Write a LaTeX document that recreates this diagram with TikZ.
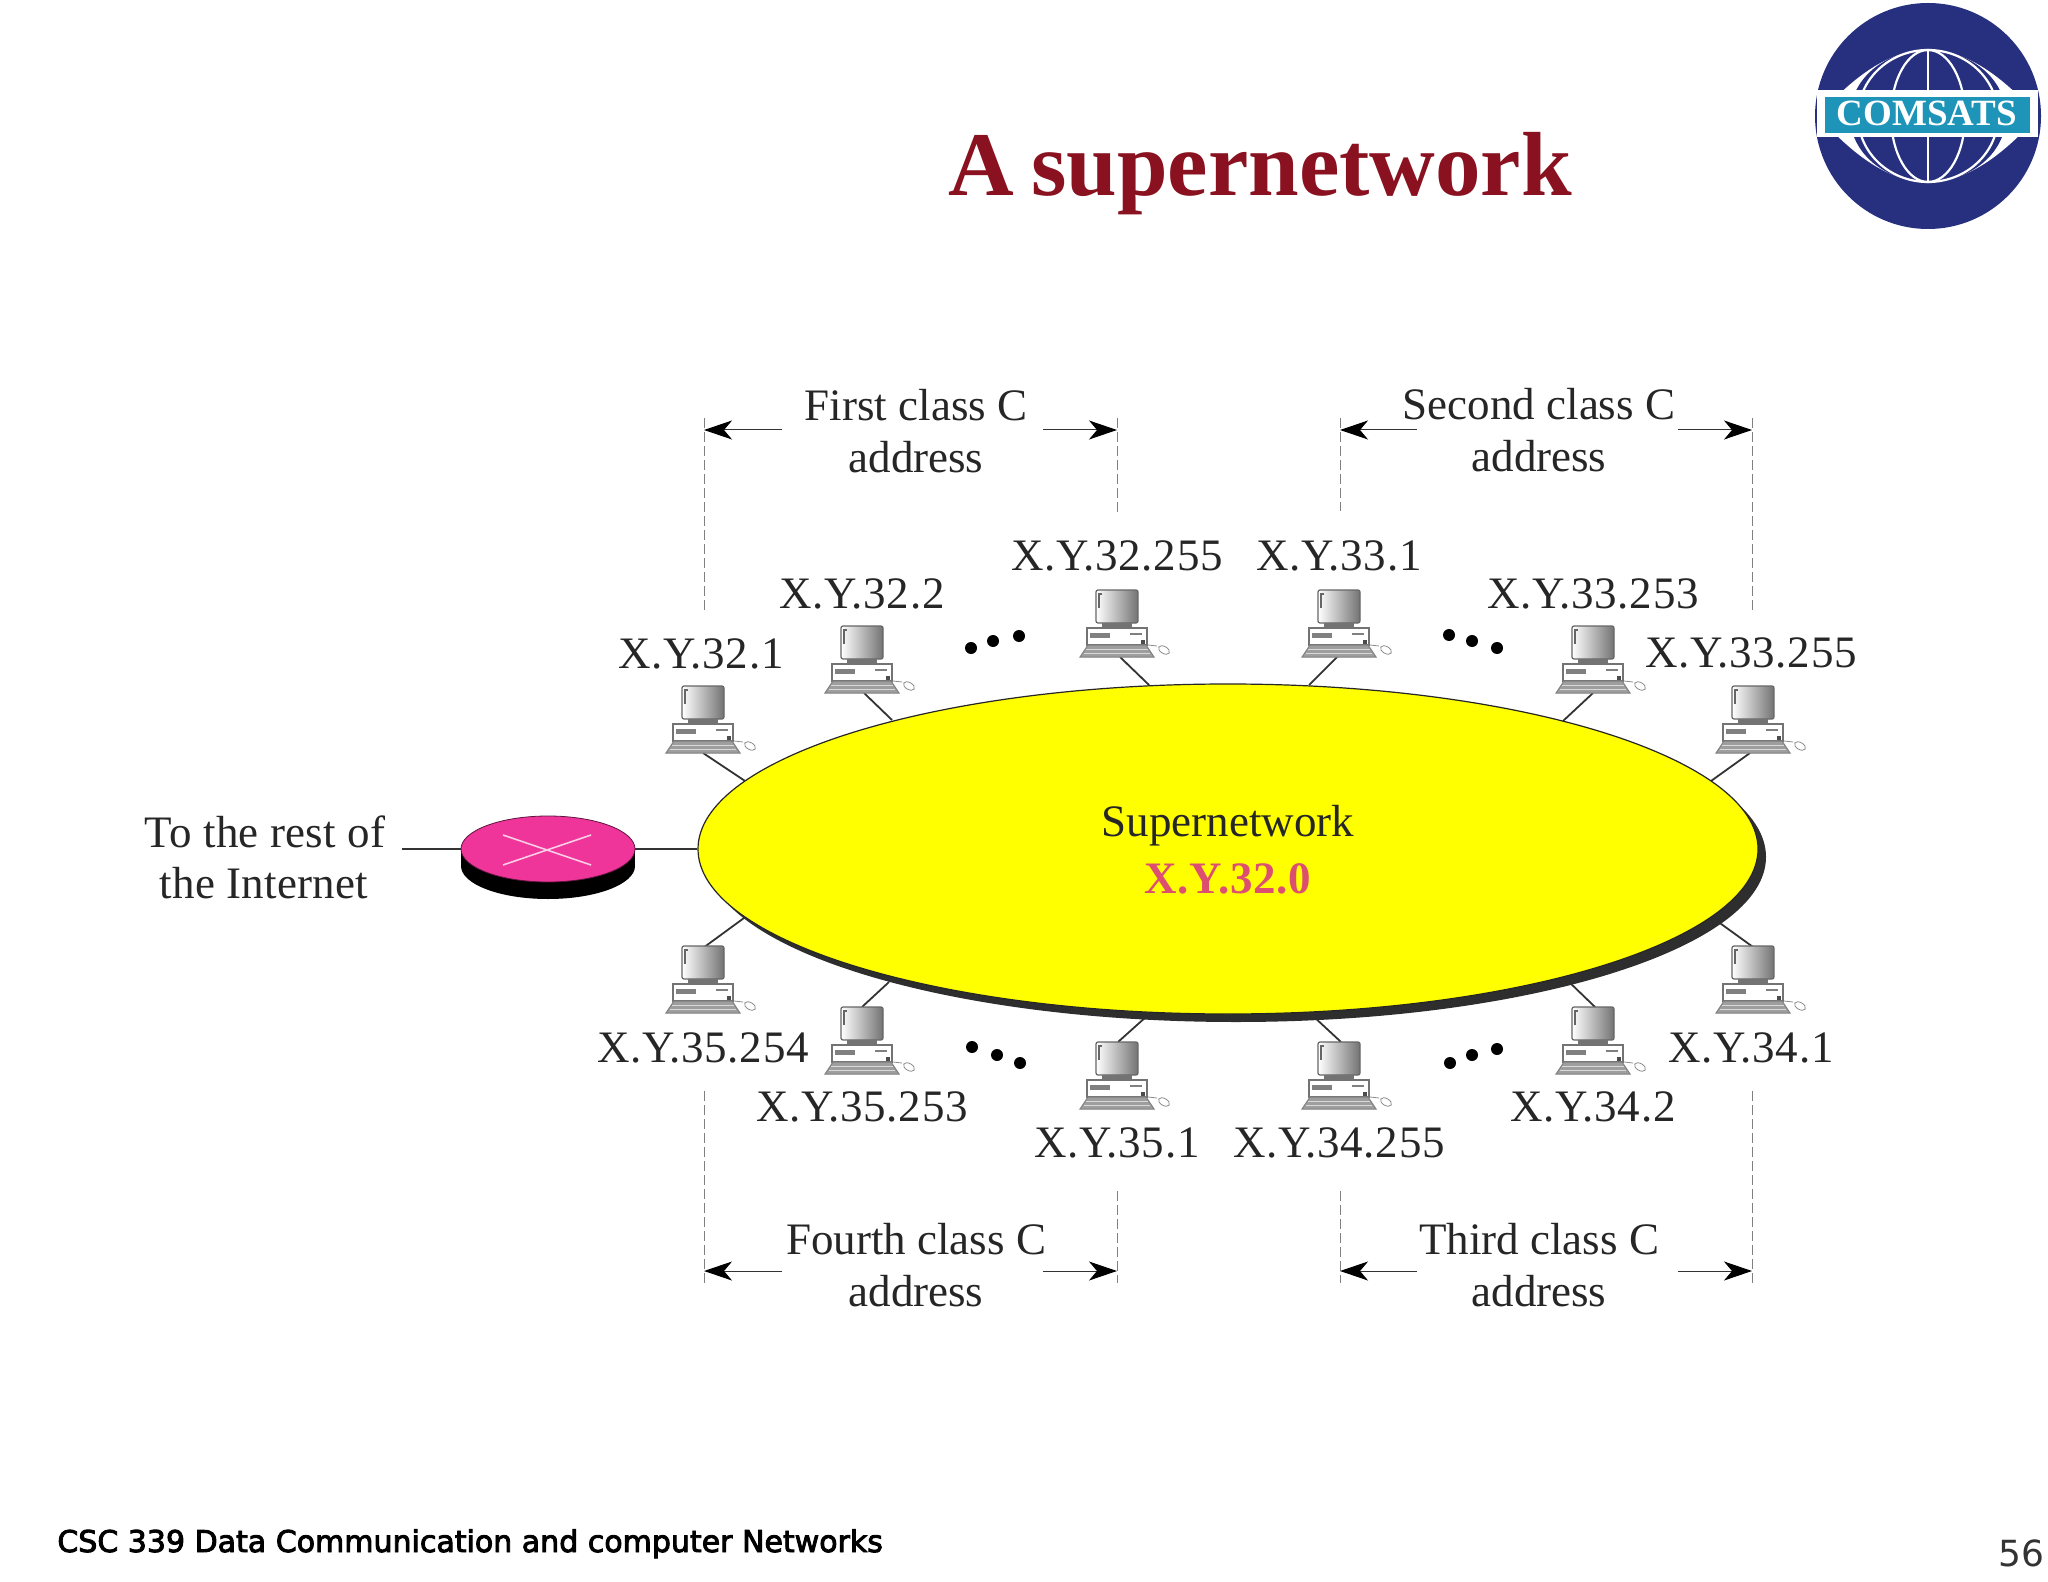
\documentclass[tikz,border=0pt]{standalone}
\usepackage{fontspec}
\setmainfont{Liberation Serif}
\newfontfamily\footfont[FakeBold=3]{DejaVu Sans}
\newfontfamily\pagefont{DejaVu Sans}
\usetikzlibrary{arrows.meta,shapes.geometric}
\definecolor{titlered}{HTML}{8A1220}
\definecolor{logoblue}{HTML}{27307F}
\definecolor{logoteal}{HTML}{1E95B8}
\definecolor{routerpink}{HTML}{F0359A}
\definecolor{addrpink}{HTML}{DD4F70}
\definecolor{inktext}{HTML}{262626}
\definecolor{superyellow}{RGB}{255,255,0}
\tikzset{
 x=0.5pt,y=-0.5pt,
 lab/.style={font=\fontsize{22.5}{26}\selectfont,text=inktext,anchor=base,inner sep=0pt},
 addr/.style={font=\fontsize{22.5}{26}\selectfont\addfontfeature{LetterSpace=1.5},text=inktext,anchor=base,inner sep=0pt},
 restlab/.style={font=\fontsize{22.5}{26}\selectfont\addfontfeature{LetterSpace=0.6},text=inktext,anchor=base,inner sep=0pt},
 titletext/.style={font=\fontsize{45.5}{50}\selectfont\bfseries,text=titlered,anchor=base,inner sep=0pt},
 link/.style={draw=black!80,line width=0.9pt},
 dim/.style={draw=black!80,line width=0.5pt,{Stealth[length=14pt,width=9.5pt,inset=4pt,color=black,fill=black]}-},
 guide/.style={draw=black!50,line width=0.5pt,dash pattern=on 5pt off 2pt},
 dotmark/.style={circle,fill=black,inner sep=0pt,minimum size=6pt},
 computer/.pic={
  % monitor
  \draw[black!60,line width=0.6pt,left color=white,right color=black!55,rounded corners=1pt] (-21,-68) rectangle (21,-35);
  \draw[black!60,line width=0.9pt] (-15,-64) -- (-18,-64) -- (-18,-50);
  \fill[black!55] (-15,-35) rectangle (15,-30);
  % case
  \draw[black!55,fill=white,line width=0.6pt] (-30,-30) rectangle (30,-13);
  \fill[black!50] (-27,-25) rectangle (-7,-20);
  \fill[black!50] (13,-25) rectangle (25,-23);
  \fill[black!70] (24,-18) rectangle (28,-14);
  % keyboard
  \draw[black!50,fill=black!38,line width=0.5pt] (-29,-13) -- (29,-13) -- (37,-1) -- (-37,-1) -- cycle;
  \draw[black!15,line width=0.3pt] (-31,-9) -- (31,-9) (-33,-5) -- (33,-5);
  % mouse
  \draw[black!45,line width=0.4pt] (31,-13) -- (40,-12);
  \draw[black!45,fill=white,line width=0.4pt,rotate around={-30:(47,-8)}] (47,-8) ellipse (6 and 3.5);
 }
}
\begin{document}
\begin{tikzpicture}
\useasboundingbox (0,0) rectangle (2048,1582);
\fill[white] (0,0) rectangle (2048,1582);

% logo
\fill[logoblue] (1928,116) circle (113);
\fill[white] (1818,116) .. controls (1855,75) and (1890,50) .. (1928,50) .. controls (1966,50) and (2001,75) .. (2038,116)
  .. controls (2001,157) and (1966,182) .. (1928,182) .. controls (1890,182) and (1855,157) .. (1818,116) -- cycle;
\fill[logoblue] (1928,116) ellipse (78 and 66);
\draw[white,line width=1.1pt] (1928,50) -- (1928,182);
\draw[white,line width=1.1pt] (1928,116) ellipse (37 and 66);
\draw[white,line width=1.1pt] (1928,116) ellipse (70 and 66);
\fill[white] (1817,90) rectangle (2038,137);
\fill[logoteal] (1825,97) rectangle (2030,133);
\node[inner sep=0pt,anchor=base,text=white,font=\fontsize{18.5}{20}\selectfont\bfseries] (logotext) at (1927,126) {COMSATS};

% title
\node[titletext] (title) at (1260,196) {A\hspace{-0.06em} supernetwork};

% guides
\coordinate (g1a) at (704,418); \coordinate (g1b) at (704,612);
\coordinate (g2a) at (1117,418); \coordinate (g2b) at (1117,512);
\coordinate (g3a) at (1340,418); \coordinate (g3b) at (1340,511);
\coordinate (g4a) at (1752,418); \coordinate (g4b) at (1752,612);
\coordinate (g5a) at (704,1091); \coordinate (g5b) at (704,1283);
\coordinate (g6a) at (1117,1191); \coordinate (g6b) at (1117,1283);
\coordinate (g7a) at (1340,1191); \coordinate (g7b) at (1340,1283);
\coordinate (g8a) at (1752,1091); \coordinate (g8b) at (1752,1283);
\foreach \n in {1,...,8} \draw[guide] (g\n a) -- (g\n b);

% dimension arrows
\coordinate (d1t) at (782,430); \coordinate (d1h) at (704,430);
\coordinate (d2t) at (1043,430); \coordinate (d2h) at (1117,430);
\coordinate (d3t) at (1417,430); \coordinate (d3h) at (1340,430);
\coordinate (d4t) at (1678,430); \coordinate (d4h) at (1752,430);
\coordinate (d5t) at (782,1271); \coordinate (d5h) at (704,1271);
\coordinate (d6t) at (1043,1271); \coordinate (d6h) at (1117,1271);
\coordinate (d7t) at (1417,1271); \coordinate (d7h) at (1340,1271);
\coordinate (d8t) at (1678,1271); \coordinate (d8h) at (1752,1271);
\foreach \n in {1,...,8} \draw[dim] (d\n h) -- (d\n t);

\node[lab] (t1a) at (916,421) {First class C};
\node[lab] (t1b) at (916,473) {address};
\node[lab] (t2a) at (1539,420) {Second class C};
\node[lab] (t2b) at (1539,472) {address};
\node[lab] (t3a) at (916,1254) {Fourth class C};
\node[lab] (t3b) at (916,1306) {address};
\node[lab] (t4a) at (1539,1254) {Third class C};
\node[lab] (t4b) at (1539,1306) {address};

% computers and connectors
\coordinate (c1) at (703,753);  \coordinate (e1) at (745,781);
\coordinate (c2) at (864,693);  \coordinate (e2) at (892,720);
\coordinate (c3) at (1120,657); \coordinate (e3) at (1149,685);
\coordinate (c4) at (1337,657); \coordinate (e4) at (1309,685);
\coordinate (c5) at (1593,693); \coordinate (e5) at (1563,721);
\coordinate (c6) at (1750,753); \coordinate (e6) at (1711,781);
\coordinate (c7) at (703,948);  \coordinate (e7) at (744,918);
\coordinate (c8) at (862,1007); \coordinate (e8) at (889,982);
\coordinate (c9) at (1118,1042); \coordinate (e9) at (1147,1016);
\coordinate (c10) at (1341,1042); \coordinate (e10) at (1313,1016);
\coordinate (c11) at (1595,1007); \coordinate (e11) at (1567,980);
\coordinate (c12) at (1753,947); \coordinate (e12) at (1717,921);
\foreach \n in {1,...,12} \draw[link] (c\n) -- (e\n);

\foreach \px/\py in {703/754,862/694,1117/658,1339/658,1593/694,1753/754,703/1014,862/1075,1117/1110,1339/1110,1593/1075,1753/1014}
  \pic at (\px,\py) {computer};

% address labels
\node[addr] (a1) at (701,668) {X.Y.32.1};
\node[addr] (a2) at (862,609) {X.Y.32.2};
\node[addr] (a3) at (1117,571) {X.Y.32.255};
\node[addr] (a4) at (1339,571) {X.Y.33.1};
\node[addr] (a5) at (1593,609) {X.Y.33.253};
\node[addr] (a6) at (1751,667) {X.Y.33.255};
\node[addr] (a7) at (703,1062) {X.Y.35.254};
\node[addr] (a8) at (862,1121) {X.Y.35.253};
\node[addr] (a9) at (1117,1157) {X.Y.35.1};
\node[addr] (a10) at (1339,1157) {X.Y.34.255};
\node[addr] (a11) at (1593,1121) {X.Y.34.2};
\node[addr] (a12) at (1751,1062) {X.Y.34.1};

% ellipsis dots
\foreach \dx/\dy in {971/648,993/641,1019/636, 1449/635,1472/641,1497/648, 972/1047,997/1055,1020/1063, 1450/1063,1472/1055,1497/1049}
  \node[dotmark] at (\dx,\dy) {};

% supernetwork
\fill[black!82] (1236,857) ellipse (530 and 165);
\node[ellipse,draw=black!85,fill=superyellow,line width=0.6pt,minimum width=530pt,minimum height=165pt,inner sep=0pt] (super) at (1228,849) {};
\node[lab] (s1) at (1228,836) {Supernetwork};
\node[addr,font=\fontsize{22.5}{26}\selectfont\bfseries\addfontfeature{LetterSpace=1.5},text=addrpink] (s2) at (1228,893) {X.Y.32.0};

% router
\fill[black] (548,866) ellipse (87 and 33);
\fill[black] (461,849) rectangle (635,866);
\node[ellipse,fill=routerpink,draw=black!60!routerpink,line width=0.4pt,minimum width=87pt,minimum height=33pt,inner sep=0pt] (router) at (548,849) {};
\draw[white!75!routerpink,line width=0.8pt] (503,835) -- (591,865) (503,865) -- (591,835);
\coordinate (restend) at (402,849);
\draw[link] (restend) -- (router.west);
\draw[link] (router.east) -- (super.west);
\node[restlab] (r1) at (265,847) {To the rest of};
\node[restlab] (r2) at (264,898) {the Internet};

% footer
\node[anchor=base west,inner sep=0pt,font=\footfont\fontsize{15}{18}\selectfont,text=black] (foot) at (57,1552) {CSC 339 Data Communication and computer Networks};
\node[anchor=base east,inner sep=0pt,font=\pagefont\fontsize{18}{20}\selectfont,text=black!80] (page) at (2045,1566) {56};
\end{tikzpicture}
\end{document}
